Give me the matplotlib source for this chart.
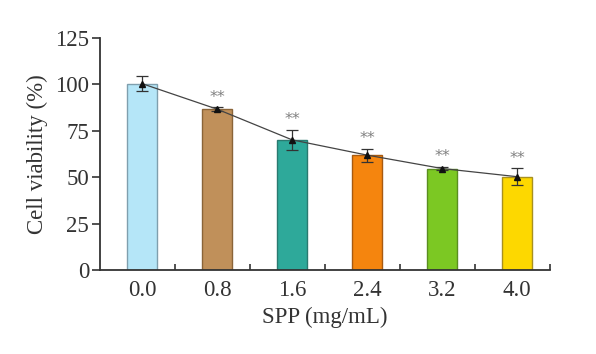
import numpy as np
import matplotlib.pyplot as plt

plt.rcParams['font.family'] = ['Liberation Serif', 'DejaVu Serif']

# data
doses = ['0.0', '0.8', '1.6', '2.4', '3.2', '4.0']
viability = [100.2, 86.5, 70.0, 61.8, 54.6, 50.2]
errors = [4.0, 1.0, 5.5, 3.5, 1.0, 4.5]
marks = ['', '**', '**', '**', '**', '**']
bar_colors = ['#b5e6f8', '#c0905a', '#2ea99a', '#f5850e', '#7cc823', '#fdd800']
edge_colors = ['#7f9fae', '#8a6438', '#2a7a70', '#a85a10', '#5a8e20', '#a89020']

fig = plt.figure(figsize=(5.96, 3.54), dpi=100)
ax = fig.add_axes([0.168, 0.237, 0.755, 0.657])

x = np.arange(len(doses))
ax.bar(x, viability, width=0.4, color=bar_colors, edgecolor=edge_colors, linewidth=1.0, zorder=2)
ax.errorbar(x, viability, yerr=errors, fmt='none', ecolor='#333333', elinewidth=0.9,
            capsize=4, capthick=0.9, zorder=3)
ax.plot(x, viability, color='#444444', linewidth=0.9, zorder=4)
ax.plot(x, viability, linestyle='none', marker='^', color='#111111', markersize=5, zorder=5)

for xi, v, e, m in zip(x, viability, errors, marks):
    if m:
        ax.text(xi, v + e + 1.5, m, ha='center', va='bottom', fontsize=11.5,
                color='#808080', family='DejaVu Sans')

ax.set_xlim(-0.56, 5.44)
ax.set_ylim(0, 125)
ax.set_xticks(x)
ax.set_xticklabels(doses)
ax.set_xticks(x + 0.44, minor=True)
ax.set_yticks([0, 25, 50, 75, 100, 125])
ax.tick_params(axis='x', which='major', length=0, labelsize=16.5, pad=7, colors='#333333')
ax.tick_params(axis='x', which='minor', direction='in', length=4, width=1.2, color='#333333')
ax.tick_params(axis='y', direction='out', length=6, width=1.2, labelsize=16.5, pad=2, colors='#333333')
for lab in ax.get_xticklabels() + ax.get_yticklabels():
    lab.set_color('#333333')

ax.spines['top'].set_visible(False)
ax.spines['right'].set_visible(False)
for s in ['left', 'bottom']:
    ax.spines[s].set_linewidth(1.3)
    ax.spines[s].set_color('#333333')

ax.set_xlabel('SPP (mg/mL)', fontsize=16.5, color='#333333', labelpad=4)
ax.set_ylabel('Cell viability (%)', fontsize=16.5, color='#333333', labelpad=5)

fig.savefig('out.png', dpi=100)
